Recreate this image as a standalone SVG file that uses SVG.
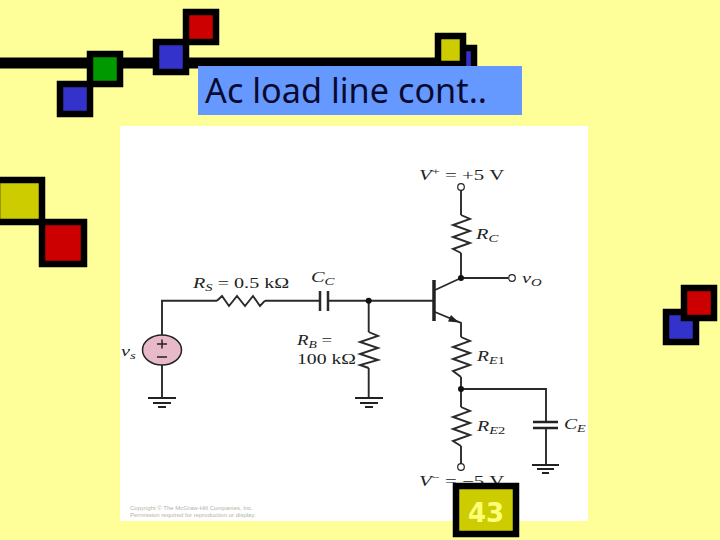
<svg xmlns="http://www.w3.org/2000/svg" width="720" height="540" viewBox="0 0 720 540">
<style>
.b{stroke:#000;stroke-width:6.5}
.blue{fill:#3333cc}.red{fill:#cc0000}.green{fill:#009900}.yel{fill:#cccc00}
.w{fill:none;stroke:#2a2a2a;stroke-width:1.900;stroke-linejoin:miter}
.t{font-family:"Liberation Serif",serif;font-size:14.5px;fill:#222}
.i{font-style:italic}
.s{font-size:10.5px}
.sup{font-size:10px}
.c{font-family:"Liberation Sans",sans-serif;font-size:6px;fill:#b4b4a8}
</style>
<rect width="720" height="540" fill="#ffff99"/>
<g id="decor">
<rect x="0" y="57.500" width="470" height="11" fill="#000"/>
<rect class="b blue" x="448" y="48" width="26" height="30"/>
<rect class="b yel" x="438" y="36" width="25" height="28"/>
<rect class="b green" x="90" y="54" width="30" height="30"/>
<rect class="b blue" x="60" y="84" width="30" height="30"/>
<rect class="b red" x="186" y="12" width="30" height="30"/>
<rect class="b blue" x="156" y="42" width="30" height="30"/>
<rect class="b yel" x="-3" y="180" width="45" height="42"/>
<rect class="b red" x="42" y="222" width="42" height="42"/>
<rect class="b blue" x="666" y="312" width="30" height="30"/>
<rect class="b red" x="684" y="288" width="30" height="30"/>
</g>
<g id="title">
<rect x="198" y="66" width="324" height="49" fill="#6699ff"/>
<text x="205" y="103" font-family="Noto Sans,sans-serif" font-size="34" fill="#0a0a30" textLength="282" lengthAdjust="spacingAndGlyphs">Ac load line cont..</text>
</g>
<rect id="panel" x="120" y="126" width="468" height="395" fill="#ffffff"/>
<g id="connectors">
<path class="w" d="M162 335V300.700H217M265 300.700H320M328 300.700H434M162 365V398"/>
<path class="w" d="M368.700 300.700V332M368.700 368V398"/>
<path class="w" d="M461 190V215M461 253V278H508.500M435 290L461 278M435 312L461 323V337M461 377V407M461 446V464M461 389H546V422M546 428V465"/>
</g>
<g id="RS"><path class="w" d="M217 300.700L222 296L229 306L237 296L245 306L253 296L260 306L265 300.700"/></g>
<g id="CC"><path class="w" style="stroke-width:2.500" d="M320 291V311M328 291V311"/></g>
<g id="RB"><path class="w" d="M368.700 332L378 336L360 342L378 348L360 354L378 360L360 365L368.700 368"/></g>
<g id="RC"><path class="w" d="M461 215L470 219L453 225L470 231L453 237L470 243L453 249L461 253"/></g>
<g id="RE1"><path class="w" d="M461 337L470 341L453 347L470 353L453 359L470 365L453 371L461 377"/></g>
<g id="RE2"><path class="w" d="M461 407L470 411L453 417L470 423L453 429L470 435L453 441L461 446"/></g>
<g id="CE"><path d="M533 422H558M533 428H558" fill="none" stroke="#222" stroke-width="2.500"/></g>
<g id="source">
<ellipse cx="162" cy="350" rx="19.500" ry="15" fill="#e8b9c8" stroke="#222" stroke-width="1.500"/>
<path d="M157 344H167M162 339.500V348.500M157 357H167" stroke="#222" stroke-width="1.500" fill="none"/>
</g>
<g id="transistor">
<path d="M434 280V321" stroke="#222" stroke-width="3.500" fill="none"/>
<path d="M459 322.500L448 321.500L451 315Z" fill="#222"/>
</g>
<g id="grounds" fill="none" stroke="#222" stroke-width="1.900">
<path d="M148 398H176M153 403H171M158 407H166"/>
<path d="M355 398H383M360 403H378M365 407H373"/>
<path d="M532 465H559M537 469H554M542 473H549"/>
</g>
<g id="terminals">
<circle cx="461" cy="187" r="3.300" fill="#fff" stroke="#222" stroke-width="1.200"/>
<circle cx="512" cy="278" r="3.300" fill="#fff" stroke="#222" stroke-width="1.200"/>
<circle cx="461" cy="467" r="3.300" fill="#fff" stroke="#222" stroke-width="1.200"/>
<circle cx="461" cy="278" r="3" fill="#111"/>
<circle cx="461" cy="389" r="3" fill="#111"/>
<circle cx="368.700" cy="300.700" r="3" fill="#111"/>
</g>
<g id="labels">
<text class="t" transform="translate(419 180) scale(1.44 1)"><tspan class="i">V</tspan><tspan class="sup" dy="-5">+</tspan><tspan dy="5"> = +5 V</tspan></text>
<text class="t i" transform="translate(476 239) scale(1.4 1)">R<tspan class="s" dy="3">C</tspan></text>
<text class="t i" transform="translate(522 283) scale(1.4 1)">v<tspan class="s" dy="3">O</tspan></text>
<text class="t" transform="translate(193 288) scale(1.39 1)"><tspan class="i">R</tspan><tspan class="i s" dy="3">S</tspan><tspan dy="-3"> = 0.5 kΩ</tspan></text>
<text class="t i" transform="translate(311 282) scale(1.4 1)">C<tspan class="s" dy="3">C</tspan></text>
<text class="t" transform="translate(297 345) scale(1.3 1)"><tspan class="i">R</tspan><tspan class="i s" dy="3">B</tspan><tspan dy="-3"> =</tspan></text>
<text class="t" transform="translate(297 364) scale(1.36 1)">100 kΩ</text>
<text class="t i" transform="translate(121 356) scale(1.4 1)">v<tspan class="s" dy="3">s</tspan></text>
<text class="t i" transform="translate(477 361) scale(1.35 1)">R<tspan class="s" dy="3"><tspan class="i">E</tspan><tspan style="font-style:normal">1</tspan></tspan></text>
<text class="t i" transform="translate(477 431) scale(1.38 1)">R<tspan class="s" dy="3"><tspan class="i">E</tspan><tspan style="font-style:normal">2</tspan></tspan></text>
<text class="t i" transform="translate(564 429) scale(1.35 1)">C<tspan class="s" dy="3">E</tspan></text>
<text class="t" transform="translate(419 486) scale(1.44 1)"><tspan class="i">V</tspan><tspan class="sup" dy="-5">−</tspan><tspan dy="5"> = −5 V</tspan></text>
<text class="c" x="130" y="510">Copyright © The McGraw-Hill Companies, Inc.</text>
<text class="c" x="130" y="517">Permission required for reproduction or display.</text>
</g>
<g id="page">
<rect x="456" y="486" width="60" height="48" fill="#cccc00" stroke="#000" stroke-width="6.500"/>
<text x="486" y="522" text-anchor="middle" font-family="DejaVu Sans,sans-serif" font-weight="bold" font-size="26" fill="#ffff77">43</text>
</g>
</svg>
